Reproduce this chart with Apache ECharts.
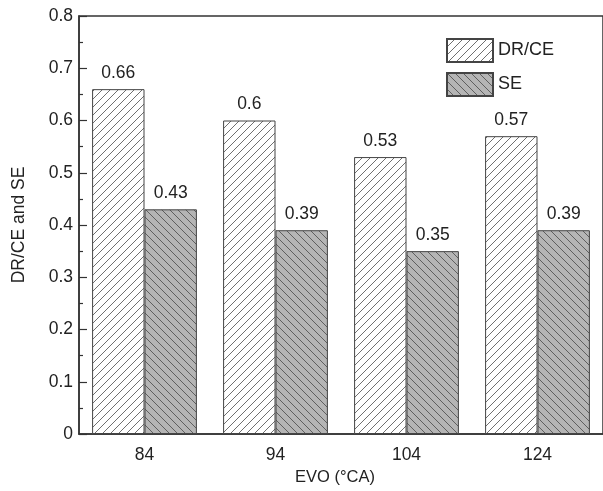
<!DOCTYPE html>
<html>
<head>
<meta charset="utf-8">
<script src="https://cdn.jsdelivr.net/npm/echarts@6/dist/echarts.min.js"></script>
<style>
html,body{margin:0;padding:0;background:#fff;}
#chart{width:603px;height:491px;}
</style>
</head>
<body>
<div id="chart"></div>
<script>
const categories = ['84', '94', '104', '124'];
const drceValues = [0.66, 0.6, 0.53, 0.57];
const seValues = [0.43, 0.39, 0.35, 0.39];
const seriesNames = ['DR/CE', 'SE'];

function makeHatch(bg, lineColor, forward) {
  const s = 8;
  const c = document.createElement('canvas');
  c.width = s; c.height = s;
  const ctx = c.getContext('2d');
  ctx.fillStyle = bg;
  ctx.fillRect(0, 0, s, s);
  ctx.strokeStyle = lineColor;
  ctx.lineWidth = 0.9;
  ctx.beginPath();
  if (forward) {
    ctx.moveTo(-1, s + 1); ctx.lineTo(s + 1, -1);
    ctx.moveTo(-1, 1); ctx.lineTo(1, -1);
    ctx.moveTo(s - 1, s + 1); ctx.lineTo(s + 1, s - 1);
  } else {
    ctx.moveTo(-1, -1); ctx.lineTo(s + 1, s + 1);
    ctx.moveTo(-1, s - 1); ctx.lineTo(1, s + 1);
    ctx.moveTo(s - 1, -1); ctx.lineTo(s + 1, 1);
  }
  ctx.stroke();
  return c;
}

const font = '"Liberation Sans", Arial, sans-serif';
const chart = echarts.init(document.getElementById('chart'), null, {renderer: 'canvas'});
const drPattern = {image: makeHatch('#ffffff', '#606060', true), repeat: 'repeat'};
const sePattern = {image: makeHatch('#b5b5b5', '#555555', false), repeat: 'repeat'};

chart.setOption({
  animation: false,
  backgroundColor: '#fff',
  textStyle: {fontFamily: font},
  grid: {left: 79, right: -4, top: 16, bottom: 57, show: true, borderColor: '#333', borderWidth: 1.5, backgroundColor: 'transparent'},
  legend: {
    orient: 'vertical', left: 441, top: 33, icon: 'rect',
    itemWidth: 46, itemHeight: 23, itemGap: 9,
    textStyle: {fontSize: 18, color: '#222', fontFamily: font},
    data: seriesNames
  },
  xAxis: {
    type: 'category', data: categories,
    name: 'EVO (°CA)', nameLocation: 'middle', nameGap: 25,
    nameTextStyle: {fontSize: 16.5, color: '#222', fontFamily: font, padding: [0, 12, 0, 0]},
    axisLine: {lineStyle: {color: '#333', width: 1.5}},
    axisTick: {show: false},
    axisLabel: {fontSize: 17.5, color: '#222', margin: 12, fontFamily: font},
    splitLine: {show: false}
  },
  yAxis: {
    type: 'value', min: 0, max: 0.8, interval: 0.1,
    name: 'DR/CE and SE', nameLocation: 'middle', nameGap: 51,
    nameTextStyle: {fontSize: 17.5, color: '#222', fontFamily: font},
    axisLine: {show: true, lineStyle: {color: '#333', width: 1.5}},
    axisTick: {show: true, inside: true, length: 8, lineStyle: {color: '#333', width: 1.2}},
    minorTick: {show: true, splitNumber: 2, length: 4, lineStyle: {color: '#333', width: 1.2}},
    axisLabel: {fontSize: 17.5, color: '#222', margin: 6, fontFamily: font,
      formatter: v => (Math.round(v * 10) / 10).toString()},
    splitLine: {show: false}
  },
  series: [
    {
      name: seriesNames[0], type: 'bar', data: drceValues,
      barGap: '0%', barCategoryGap: '20%',
      itemStyle: {color: drPattern, borderColor: '#444', borderWidth: 1},
      label: {show: true, position: 'top', distance: 7, fontSize: 17.5, color: '#222', fontFamily: font}
    },
    {
      name: seriesNames[1], type: 'bar', data: seValues,
      barGap: '0%', barCategoryGap: '20%',
      itemStyle: {color: sePattern, borderColor: '#444', borderWidth: 1},
      label: {show: true, position: 'top', distance: 7, fontSize: 17.5, color: '#222', fontFamily: font}
    }
  ]
});
</script>
</body>
</html>
